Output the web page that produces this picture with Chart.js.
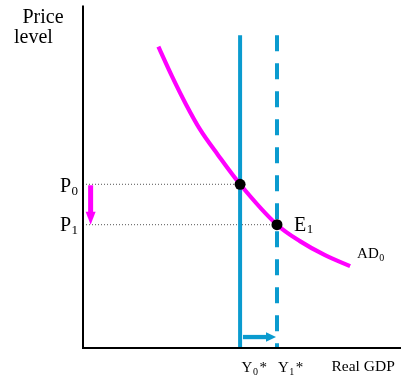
<!DOCTYPE html>
<html>
<head>
<meta charset="utf-8">
<script src="https://cdn.jsdelivr.net/npm/chart.js@4.4.1/dist/chart.umd.min.js"></script>
<style>
html,body{margin:0;padding:0;background:#fff;}
#wrap{width:412px;height:379px;}
</style>
</head>
<body>
<div id="wrap"><canvas id="c" width="412" height="379"></canvas></div>
<script>
// ---- data (axes run 0..100 in both directions) ----
const adGDP   = [23.7, 28.0, 32.4, 36.8, 42.5, 49.4, 61.0, 68.2, 76.1, 84.0];
const adPrice = [88.0, 79.3, 71.1, 63.8, 56.3, 47.8, 36.0, 31.2, 27.1, 23.9];
const potentialGDP = [49.4, 61.0];      // Y0*, Y1*
const priceLevels  = [47.8, 36.0];      // P0, P1
const potentialTop = 91.3;              // top of the vertical lines
const priceArrowGDP = 2.4;              // where the P0 -> P1 arrow sits
const gdpArrow = {from: 50.3, to: 60.7, price: 3.2};
const axisMax = 100;

const BLUE = '#0A9BCF', MAGENTA = '#FF00FF';
const SERIF = '"Liberation Serif", "Times New Roman", serif';

const adData = adGDP.map((g, i) => ({x: g, y: adPrice[i]}));

function txt(ctx, s, x, y, size) {
  ctx.font = size + 'px ' + SERIF;
  ctx.fillText(s, x, y);
  return ctx.measureText(s).width;
}
function subLabel(ctx, base, sub, x, y, size, subSize, drop, tail) {
  ctx.fillStyle = '#000';
  ctx.textAlign = 'left';
  ctx.textBaseline = 'alphabetic';
  let w = txt(ctx, base, x, y, size);
  let w2 = txt(ctx, sub, x + w + 0.5, y + drop, subSize);
  if (tail) txt(ctx, tail, x + w + w2 + 2, y, size);
}
function arrow(ctx, x1, y1, x2, y2, shaft, headLen, headW, color) {
  const dx = x2 - x1, dy = y2 - y1, L = Math.hypot(dx, dy);
  const ux = dx / L, uy = dy / L, px = -uy, py = ux;
  const bx = x2 - ux * headLen, by = y2 - uy * headLen;
  ctx.save();
  ctx.strokeStyle = color; ctx.fillStyle = color;
  ctx.lineWidth = shaft; ctx.lineCap = 'butt';
  ctx.beginPath(); ctx.moveTo(x1, y1); ctx.lineTo(bx + ux, by + uy); ctx.stroke();
  ctx.beginPath();
  ctx.moveTo(x2, y2);
  ctx.lineTo(bx + px * headW / 2, by + py * headW / 2);
  ctx.lineTo(bx - px * headW / 2, by - py * headW / 2);
  ctx.closePath(); ctx.fill();
  ctx.restore();
}

const overlay = {
  id: 'overlay',
  afterDatasetsDraw(chart) {
    const {ctx, chartArea: a, scales: {x, y}} = chart;
    ctx.save();
    // axes
    ctx.strokeStyle = '#000'; ctx.lineWidth = 2;
    ctx.beginPath();
    ctx.moveTo(a.left, a.top); ctx.lineTo(a.left, a.bottom); ctx.lineTo(a.right, a.bottom);
    ctx.stroke();
    // arrows
    arrow(ctx, x.getPixelForValue(priceArrowGDP), y.getPixelForValue(priceLevels[0]) + 1,
          x.getPixelForValue(priceArrowGDP), y.getPixelForValue(priceLevels[1]),
          5, 13, 10, MAGENTA);
    arrow(ctx, x.getPixelForValue(gdpArrow.from), y.getPixelForValue(gdpArrow.price),
          x.getPixelForValue(gdpArrow.to), y.getPixelForValue(gdpArrow.price),
          4.3, 10, 9.5, BLUE);
    // axis titles
    ctx.fillStyle = '#000'; ctx.textAlign = 'left'; ctx.textBaseline = 'alphabetic';
    txt(ctx, 'Price', 22.5, 23, 20);
    txt(ctx, 'level', 14, 43, 20);
    txt(ctx, 'Real GDP', a.right - 69.5, a.bottom + 23, 15.5);
    // price labels
    subLabel(ctx, 'P', '0', a.left - 23, y.getPixelForValue(priceLevels[0]) + 8, 20, 13, 3);
    subLabel(ctx, 'P', '1', a.left - 23, y.getPixelForValue(priceLevels[1]) + 6.5, 20, 13, 2.5);
    // equilibrium label
    subLabel(ctx, 'E', '1', x.getPixelForValue(potentialGDP[1]) + 17, y.getPixelForValue(priceLevels[1]) + 6.5, 20, 13, 2);
    // curve label
    const n = adGDP.length - 1;
    subLabel(ctx, 'AD', '0', x.getPixelForValue(adGDP[n]) + 7, y.getPixelForValue(adPrice[n]) - 8, 15, 10, 2.5);
    // potential GDP labels
    subLabel(ctx, 'Y', '0', x.getPixelForValue(potentialGDP[0]) + 1.5, a.bottom + 24, 15, 10, 2.5, '*');
    subLabel(ctx, 'Y', '1', x.getPixelForValue(potentialGDP[1]) + 1, a.bottom + 24, 15, 10, 2.5, '*');
    ctx.restore();
  }
};

new Chart(document.getElementById('c'), {
  type: 'line',
  data: {
    datasets: [
      { // equilibrium points
        data: potentialGDP.map((g, i) => ({x: g, y: priceLevels[i]})),
        showLine: false, pointRadius: 5.5, pointHoverRadius: 5.5,
        pointBackgroundColor: '#000', pointBorderColor: '#000', pointBorderWidth: 0, order: 0
      },
      { // AD0
        data: adData, borderColor: MAGENTA, borderWidth: 4.2, pointRadius: 0,
        cubicInterpolationMode: 'monotone', fill: false, order: 1
      },
      { // Y0* solid
        data: [{x: potentialGDP[0], y: potentialTop}, {x: potentialGDP[0], y: 0}],
        borderColor: BLUE, borderWidth: 4, pointRadius: 0, order: 2
      },
      { // Y1* dashed
        data: [{x: potentialGDP[1], y: potentialTop}, {x: potentialGDP[1], y: 0}],
        borderColor: BLUE, borderWidth: 4, borderDash: [16, 12], pointRadius: 0, order: 2
      },
      { // P0 guide
        data: [{x: 0, y: priceLevels[0]}, {x: potentialGDP[0], y: priceLevels[0]}],
        borderColor: '#555', borderWidth: 1, borderDash: [1, 2], pointRadius: 0, order: 3
      },
      { // P1 guide
        data: [{x: 0, y: priceLevels[1]}, {x: potentialGDP[1], y: priceLevels[1]}],
        borderColor: '#555', borderWidth: 1, borderDash: [1, 2], pointRadius: 0, order: 3
      }
    ]
  },
  options: {
    responsive: false,
    animation: false,
    events: [],
    layout: {padding: {left: 83, right: 11, top: 5, bottom: 31}},
    plugins: {legend: {display: false}, tooltip: {enabled: false}},
    scales: {
      x: {type: 'linear', min: 0, max: axisMax, display: false},
      y: {type: 'linear', min: 0, max: axisMax, display: false}
    }
  },
  plugins: [overlay]
});
</script>
</body>
</html>
